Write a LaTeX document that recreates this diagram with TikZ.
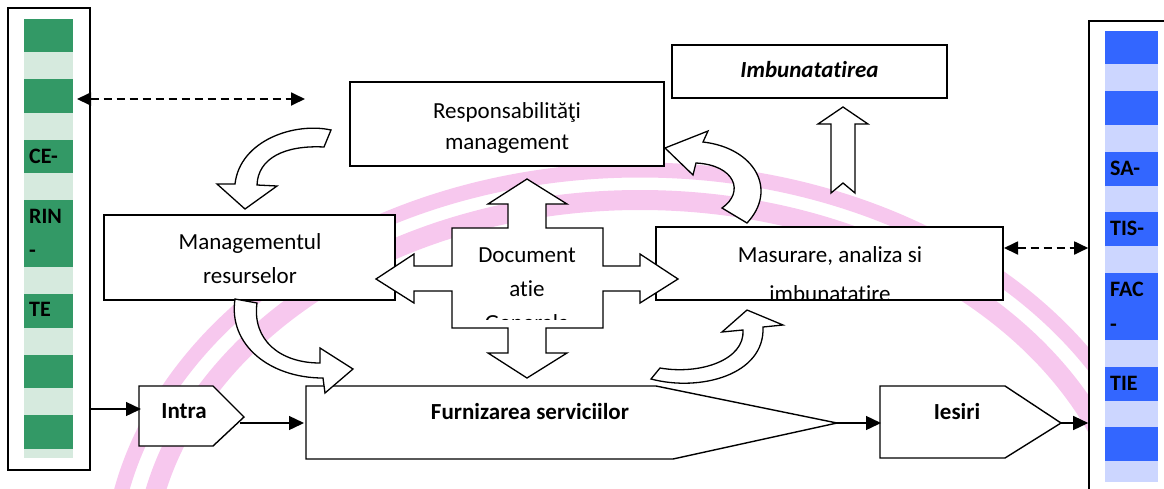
\documentclass[tikz,border=0pt]{standalone}
\usepackage{fontspec}
\setmainfont{Carlito}[Ligatures={NoCommon,NoContextual}]
\usetikzlibrary{arrows.meta}
\definecolor{gdark}{RGB}{51,153,102}
\definecolor{glight}{RGB}{214,234,222}
\definecolor{bdark}{RGB}{51,102,255}
\definecolor{blight}{RGB}{204,214,255}
\definecolor{wpink}{RGB}{247,200,238}
\begin{document}
\begin{tikzpicture}[x=1pt,y=-1pt,
  box/.style={draw, fill=white, line width=1.6pt, inner sep=0pt},
  blk/.style={draw, fill=white, line width=1.3pt, line join=miter},
  txt/.style={font=\fontsize{23}{28}\selectfont, inner sep=0pt, anchor=base},
  btxt/.style={font=\fontsize{23}{28}\selectfont\bfseries, inner sep=0pt, anchor=base},
  stxt/.style={font=\fontsize{22}{28}\selectfont\bfseries, inner sep=0pt, anchor=base west},
  conn/.style={line width=1.4pt, -{Triangle[length=15pt,width=14pt]}},
  dconn/.style={line width=1.8pt, dash pattern=on 8pt off 5pt, {Triangle[length=14pt,width=13pt]}-{Triangle[length=14pt,width=13pt]}}]
\useasboundingbox (0,0) rectangle (1164,488);
\clip (0,0) rectangle (1164,488);
% watermark bands
\draw[wpink, line width=15pt] (640,575) ellipse [x radius=530, y radius=405];
\draw[wpink, line width=20pt] (640,575) ellipse [x radius=497, y radius=375];
% left column
\node[box, minimum width=82pt, minimum height=462pt] (lcol) at (49,239) {};
\fill[glight] (24,19) rectangle (73,458);
\foreach \a/\b in {19/52,79/113,140/173,200/267,294/328,355/388,415/449}
  \fill[gdark] (24,\a) rectangle (73,\b);
\node[stxt] (c1) at (29,163) {CE-};
\node[stxt] (c2) at (29,223) {RIN};
\node[stxt] (c3) at (29,257) {-};
\node[stxt] (c4) at (29,316) {TE};
% right column
\node[box, minimum width=100pt, minimum height=500pt] (rcol) at (1139,271) {};
\fill[blight] (1105,31) rectangle (1158,482);
\foreach \a/\b in {31/64,91/125,152/186,212/246,273/340,367/401,427/461}
  \fill[bdark] (1105,\a) rectangle (1158,\b);
\node[stxt] (s1) at (1110,175) {SA-};
\node[stxt] (s2) at (1110,235) {TIS-};
\node[stxt] (s3) at (1110,296) {FAC};
\node[stxt] (s4) at (1110,331) {-};
\node[stxt] (s5) at (1110,390) {TIE};
% boxes
\node[box, minimum width=314pt, minimum height=84pt] (resp) at (507,124) {};
\node[box, minimum width=275pt, minimum height=53pt] (imb) at (809.5,71.5) {};
\node[box, minimum width=291pt, minimum height=85pt] (mgmt) at (249.5,257.5) {};
\node[box, minimum width=347pt, minimum height=73pt] (mas) at (829.5,263.5) {};
% pentagons
\draw[blk, line width=1.4pt] (139,386) -- (213,386) -- (244,417) coordinate (inTip) -- (213,446) -- (139,446) -- cycle;
\draw[blk, line width=1.4pt] (306,386) -- (656,386) -- (837,423) coordinate (fuTip) -- (673,459) -- (306,459) -- cycle;
\draw[blk, line width=1.4pt] (880,386) -- (1005,386) -- (1061,423) coordinate (ieTip) -- (1005,458) -- (880,458) -- cycle;
% connectors
\coordinate (inW) at (141,409);
\coordinate (inOut) at (240,423);
\coordinate (fuW) at (304,423);
\coordinate (ieW) at (881,423);
\coordinate (dl) at (77,99);
\coordinate (dr) at (305,99);
\coordinate (masR) at (1004,248);
\draw[conn] (lcol.east |- inW) -- (inW);
\draw[conn] (inOut) -- (fuW);
\draw[conn] (fuTip) -- (ieW);
\draw[conn] (ieTip) -- (rcol.west |- ieTip);
\draw[dconn] (dl) -- (dr);
\draw[dconn] (masR) -- (rcol.west |- masR);
% curved block arrows
\draw[blk] (331,130) .. controls (295,122) and (240,140) .. (235,184) -- (217,184) -- (245,209) -- (277,186) -- (257,185) .. controls (258,158) and (285,145) .. (324,147) -- cycle;
\draw[blk] (235,299) .. controls (228,345) and (270,378) .. (323,378) -- (325,393) -- (353,369) -- (320,348) -- (320,363) .. controls (280,363) and (252,340) .. (257,303) -- cycle;
\draw[blk] (651,379) .. controls (700,392) and (765,375) .. (763,327) -- (783,325) -- (747,310) -- (722,332) -- (743,330) .. controls (745,360) and (700,375) .. (660,368) -- cycle;
\draw[blk] (747,223) .. controls (778,190) and (755,148) .. (703,142) -- (708,131) -- (665,148) -- (693,175) -- (696,163) .. controls (735,165) and (745,192) .. (722,208) -- cycle;
\draw[blk] (843,107) -- (868,124) -- (855,124) -- (855,193) -- (843,183) -- (831,193) -- (831,124) -- (818,124) -- cycle;
% document cross
\draw[blk] (527,179) -- (567,204) -- (546,204) -- (546,228) -- (603,228) -- (603,266) -- (640,266) -- (640,254) -- (678,279) -- (640,303) -- (640,291) -- (603,291) -- (603,328) -- (546,328) -- (546,353) -- (567,353) -- (527,378) -- (488,353) -- (508,353) -- (508,328) -- (452,328) -- (452,291) -- (414,291) -- (414,303) -- (376,279) -- (414,254) -- (414,266) -- (452,266) -- (452,228) -- (508,228) -- (508,204) -- (488,204) -- cycle;
% texts
\node[txt] (tresp1) at (507,118) {Responsabilităţi};
\node[txt] (tresp2) at (507,149) {management};
\node[btxt, font=\fontsize{23}{28}\selectfont\bfseries\itshape] (timb) at (809.5,77) {Imbunatatirea};
\node[txt] (tmg1) at (250,249) {Managementul};
\node[txt] (tmg2) at (250,283) {resurselor};
\node[txt] (tdoc1) at (527,262) {Document};
\node[txt] (tdoc2) at (527,296) {atie};
\begin{scope}
\clip (452,228) rectangle (603,319);
\node[txt] (tdoc3) at (527,330) {Generala};
\end{scope}
\node[txt] (tms1) at (830,262) {Masurare, analiza si};
\begin{scope}
\clip (656,227) rectangle (1002,299);
\node[txt] (tms2) at (830,301) {imbunatatire};
\end{scope}
\node[btxt] (tin) at (184,418) {Intra};
\node[btxt] (tfu) at (530,419) {Furnizarea serviciilor};
\node[btxt] (tie) at (957,419) {Iesiri};
\end{tikzpicture}
\end{document}
